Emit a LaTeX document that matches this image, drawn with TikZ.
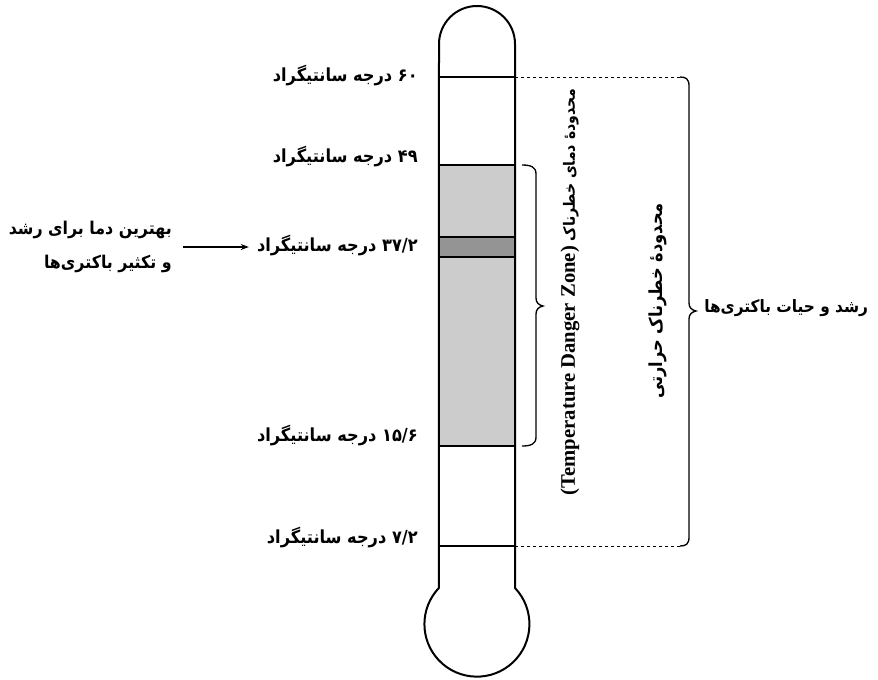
\documentclass[tikz,border=0pt]{standalone}
\usepackage{fontspec}
\usetikzlibrary{arrows.meta,calc}
\TeXXeTstate=1
\newfontfamily\fa[Script=Arabic, FakeStretch=0.9]{DejaVu Sans}
\newfontfamily\en{Liberation Serif}
\tikzset{
  tube/.style={line width=1.5pt},
  mark line/.style={line width=1.1pt},
  guide/.style={line width=0.7pt, dash pattern=on 2.5pt off 2pt},
  bracket/.style={line width=1pt},
  templabel/.style={anchor=east, inner sep=0pt, font=\fa\bfseries\fontsize{13.5}{16}\selectfont},
  sidelabel/.style={inner sep=0pt, font=\fa\bfseries\fontsize{13.5}{16}\selectfont},
  arr/.style={line width=0.8pt, -{Stealth[length=6pt,width=4.5pt]}},
}
\begin{document}
\begin{tikzpicture}[x=0.75pt, y=-0.75pt]
\useasboundingbox (0,0) rectangle (878,679);

% shaded danger zone and the optimum band inside the tube
\fill[black!20] (439,165) rectangle (515,446);
\fill[black!42] (439,237) rectangle (515,257);
\draw[mark line] (439,165) -- (515,165);
\draw[mark line] (439,446) -- (515,446);
\draw[mark line] (439,237) -- (515,237);
\draw[mark line] (439,257) -- (515,257);
\draw[mark line] (439,77) -- (515,77);
\draw[mark line] (439,546) -- (515,546);

% thermometer outline: tube with rounded top and bulb
\draw[tube] (515,44) -- (515,588)
  arc[start angle=-43.5, end angle=223.5, radius=52.5]
  -- (439,44) arc[start angle=180, end angle=360, radius=38] -- cycle;

% dashed guides to the outer bracket
\draw[guide] (515,77) -- (680,77);
\draw[guide] (515,546) -- (680,546);

% inner bracket (danger zone)
\draw[bracket] (522,165) .. controls (531,165) and (536,167) .. (536,174)
  -- (536,298) .. controls (536,303) and (539,305) .. (543,306)
  .. controls (539,307) and (536,309) .. (536,314)
  -- (536,437) .. controls (536,444) and (531,446) .. (522,446);

% outer bracket (growth range)
\draw[bracket] (680,77) .. controls (686,77) and (689,79) .. (689,86)
  -- (689,303) .. controls (689,308) and (692,310) .. (696,311)
  .. controls (692,312) and (689,314) .. (689,319)
  -- (689,537) .. controls (689,544) and (686,546) .. (680,546);

% temperature labels
\node[templabel] (t60) at (418,76) {\beginR ۶۰ درجه سانتیگراد\endR};
\node[templabel] (t49) at (418,157) {\beginR ۴۹ درجه سانتیگراد\endR};
\node[templabel] (t37) at (418,246) {\beginR ۳۷/۲ درجه سانتیگراد\endR};
\node[templabel] (t156) at (418,436) {\beginR ۱۵/۶ درجه سانتیگراد\endR};
\node[templabel] (t72) at (418,537) {\beginR ۷/۲ درجه سانتیگراد\endR};

% optimum label and its arrow
\node[sidelabel, anchor=east, align=right, font=\fa\bfseries\fontsize{13.2}{16}\selectfont] (best) at (172,247)
  {\beginR بهترین دما برای رشد\endR\\[10pt]\beginR و تکثیر باکتری‌ها\endR};
\draw[arr] ($(best.east)+(11,0)$) -- ($(best.east -| t37.west)+(-8,0)$);

% vertical captions
\node[sidelabel, rotate=90, font=\fa\bfseries\fontsize{11.7}{16}\selectfont] (zone) at (570,292)
  {\beginR محدودهٔ دمای خطرناک \beginL{\en\bfseries\fontsize{15.5}{16}\selectfont (Temperature Danger Zone)}\endL\endR};
\node[sidelabel, rotate=90] (heat) at (658,301)
  {\beginR محدودهٔ خطرناک حرارتی\endR};

% growth range label
\node[sidelabel, anchor=west, font=\fa\bfseries\fontsize{12.8}{16}\selectfont] (growth) at (704,308)
  {\beginR رشد و حیات باکتری‌ها\endR};
\end{tikzpicture}
\end{document}
